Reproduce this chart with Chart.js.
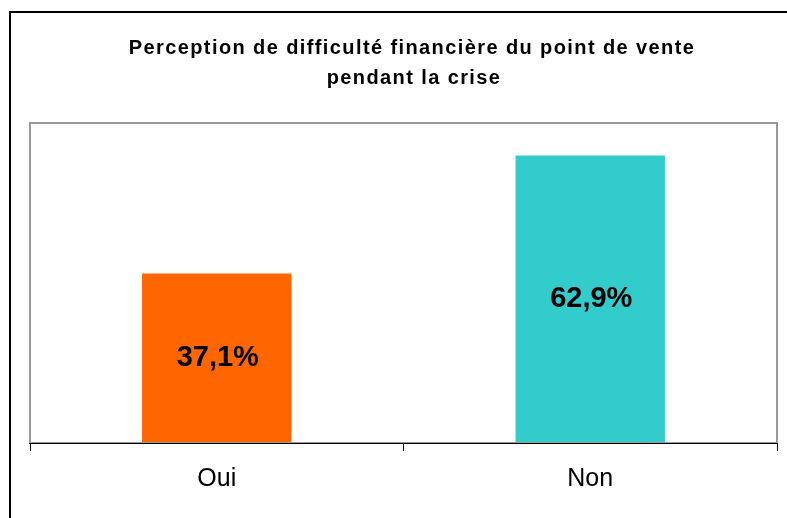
<!DOCTYPE html>
<html lang="fr">
<head>
    <meta charset="utf-8" />
    <title>Perception de difficulté financière</title>
    <script src="https://cdn.jsdelivr.net/npm/chart.js@4.4.0/dist/chart.umd.min.js"></script>
    <style>
        html, body {
            margin: 0;
            padding: 0;
            background: #ffffff;
        }
        #wrap {
            width: 787px;
            height: 518px;
        }
    </style>
</head>
<body>
    <div id="wrap">
        <canvas id="myChart" width="787" height="518"></canvas>
    </div>

    <script>
        // data
        var titleLines = ["Perception de difficulté financière du point de vente", "pendant la crise"];
        var categories = ["Oui", "Non"];
        var values = [37.1, 62.9];
        var barColors = ["#FF6600", "#33CCCC"];

        var fmt = function (v) {
            return v.toFixed(1).replace(".", ",") + "%";
        };

        // outer frame, plot border, title and bar labels
        var framePlugin = {
            id: "frame",
            beforeDraw: function (chart) {
                var ctx = chart.ctx;
                ctx.save();
                ctx.fillStyle = "#ffffff";
                ctx.fillRect(0, 0, chart.width, chart.height);
                ctx.strokeStyle = "#000000";
                ctx.lineWidth = 2;
                ctx.strokeRect(10, 12, 900, 900);

                ctx.fillStyle = "#000000";
                ctx.font = "bold 20px 'Liberation Sans', Arial, sans-serif";
                ctx.letterSpacing = "1.4px";
                ctx.textAlign = "center";
                ctx.textBaseline = "alphabetic";
                ctx.fillText(titleLines[0], 412, 54);
                ctx.fillText(titleLines[1], 414, 84);
                ctx.restore();
            },
            afterDatasetsDraw: function (chart) {
                var ctx = chart.ctx;
                var a = chart.chartArea;
                ctx.save();
                ctx.strokeStyle = "#999999";
                ctx.lineWidth = 2;
                ctx.strokeRect(a.left, a.top, a.right - a.left, a.bottom - a.top);
                ctx.strokeStyle = "#000000";
                ctx.lineWidth = 1;
                ctx.beginPath();
                ctx.moveTo(a.left - 1, a.bottom + 0.5);
                ctx.lineTo(a.right + 1, a.bottom + 0.5);
                ctx.stroke();

                var meta = chart.getDatasetMeta(0);
                ctx.fillStyle = "#000000";
                ctx.font = "bold 29px 'Liberation Sans', Arial, sans-serif";
                ctx.textAlign = "center";
                ctx.textBaseline = "middle";
                meta.data.forEach(function (bar, i) {
                    ctx.fillText(fmt(values[i]), bar.x + 1, (bar.y + bar.base) / 2);
                });
                ctx.restore();
            }
        };

        const myChart = new Chart("myChart", {
            type: "bar",
            data: {
                labels: categories,
                datasets: [{
                    data: values,
                    backgroundColor: barColors,
                    borderWidth: 0,
                    categoryPercentage: 1,
                    barPercentage: 0.4
                }]
            },
            options: {
                responsive: false,
                animation: false,
                layout: {
                    padding: { left: 30, right: 10, top: 123, bottom: 0 }
                },
                plugins: {
                    legend: { display: false },
                    title: { display: false },
                    tooltip: { enabled: false }
                },
                scales: {
                    y: {
                        display: false,
                        min: 0,
                        max: 70
                    },
                    x: {
                        offset: true,
                        afterFit: function (scale) {
                            scale.height = 75;
                        },
                        grid: {
                            offset: true,
                            drawOnChartArea: false,
                            drawTicks: true,
                            tickLength: 8,
                            color: "#000000",
                            lineWidth: 1
                        },
                        border: {
                            display: true,
                            color: "#000000",
                            width: 1
                        },
                        ticks: {
                            color: "#000000",
                            padding: 13,
                            font: { family: "'Liberation Sans', Arial, sans-serif", size: 25 }
                        }
                    }
                }
            },
            plugins: [framePlugin]
        });
    </script>
</body>
</html>
